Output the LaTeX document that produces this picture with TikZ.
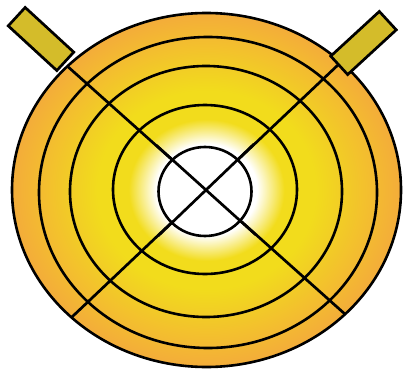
\documentclass[tikz,border=0pt]{standalone}
\usepackage{tikz}
\usetikzlibrary{calc}
\usepackage[x11names, svgnames, rgb]{xcolor}

\definecolor{discorange}{RGB}{243,172,58}
\definecolor{discyellow}{RGB}{242,220,28}
\definecolor{tabolive}{RGB}{212,188,42}

% glow: white core, yellow band, orange rim
\pgfdeclareradialshading{discglow}{\pgfpoint{0bp}{0bp}}{%
	color(0bp)=(white); color(6.5bp)=(white); color(10bp)=(discyellow);
	color(14bp)=(discyellow); color(25bp)=(discorange); color(50bp)=(discorange)}

\begin{document}
\begin{tikzpicture}[
			x=1pt,
			y=-1pt,
			ring/.style={
					draw=black,
					line width=2.6pt
				},
			spoke/.style={
					draw=black,
					line width=2.7pt
				},
			tab/.style={
					draw=black,
					line width=2.7pt,
					fill=tabolive,
					minimum width=66pt, % long side of the tab
					minimum height=25pt,
					inner sep=0pt
				}
		]
		\useasboundingbox (0,0) rectangle (404,369);

		\coordinate (mid) at (206,190);
		\coordinate (nw) at ($(mid)+(-280,-250)$);
		\coordinate (se) at ($(mid)+(280,250)$);
		\coordinate (ne) at ($(mid)+(266,-252)$);
		\coordinate (sw) at ($(mid)+(-266,252)$);

		% disc
		\shade[shading=discglow] (206.5,190) ellipse [x radius=194.5, y radius=177];

		\begin{scope}
			\clip (206.5,190) ellipse [x radius=194.5, y radius=177];
			\draw[spoke] (nw) -- (se);
			\draw[spoke] (ne) -- (sw);
		\end{scope}

		\draw[ring] (206.5,190) ellipse [x radius=194.5, y radius=177];
		\draw[ring] (208,192.5) ellipse [x radius=169, y radius=155.5];
		\draw[ring] (206,191.5) ellipse [x radius=136, y radius=125.5];
		\draw[ring] (205,189.5) ellipse [x radius=92, y radius=84.5];

		% hub
		\draw[ring, fill=white] (205,191.5) ellipse [x radius=46.5, y radius=44.5];
		\draw[spoke] ($(mid)+(-50,-45)$) -- ($(mid)+(50,45)$);
		\draw[spoke] ($(mid)+(48,-46)$) -- ($(mid)+(-48,46)$);

		% tabs
		\node[tab, rotate=-42.6] (tableft) at (41,39) {};
		\node[tab, rotate=42.6] (tabright) at (363.5,43) {};
	\end{tikzpicture}
\end{document}
